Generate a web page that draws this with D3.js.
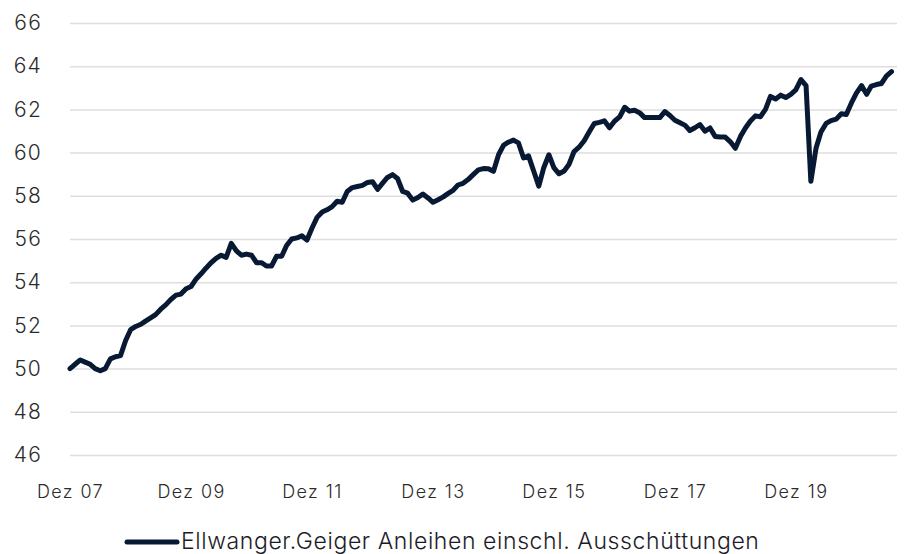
<!DOCTYPE html>
<html>
<head>
<meta charset="utf-8">
<script src="https://cdn.jsdelivr.net/npm/d3@7"></script>
<style>
  body { margin: 0; background: #fff; }
  #chart { width: 904px; height: 554px; }
  .tick-label { font-family: Inter, "Noto Sans", sans-serif; font-weight: 300; fill: #2b2b2b; }
  .legend-text { font-family: Inter, "Noto Sans", sans-serif; font-weight: 300; fill: #1c1c28; }
</style>
</head>
<body>
<div id="chart"></div>
<script>
// monthly values, first point Dez 2007
const startMonth = new Date(2007, 11, 1);
const values = [
  50.0,
  50.2, 50.4, 50.3, 50.2, 50.0, 49.9, 50.0, 50.45, 50.55, 50.6, 51.3, 51.8,
  51.95, 52.05, 52.2, 52.35, 52.5, 52.75, 52.95, 53.2, 53.4, 53.45, 53.7, 53.8,
  54.15, 54.4, 54.65, 54.9, 55.1, 55.25, 55.15, 55.8, 55.45, 55.25, 55.3, 55.25,
  54.9, 54.9, 54.75, 54.75, 55.2, 55.2, 55.7, 56.0, 56.05, 56.15, 55.95, 56.5,
  57.0, 57.25, 57.35, 57.5, 57.75, 57.7, 58.2, 58.38, 58.43, 58.48, 58.62, 58.65,
  58.3, 58.6, 58.85, 58.98, 58.8, 58.2, 58.12, 57.8, 57.92, 58.08, 57.9, 57.7,
  57.82, 57.95, 58.1, 58.25, 58.5, 58.58, 58.75, 58.98, 59.2, 59.26, 59.25, 59.13,
  59.9, 60.35, 60.48, 60.58, 60.45, 59.75, 59.85, 59.15, 58.45, 59.3, 59.9, 59.3,
  59.02, 59.15, 59.45, 60.05, 60.25, 60.55, 60.95, 61.35, 61.4, 61.47, 61.15, 61.45,
  61.65, 62.1, 61.92, 61.96, 61.85, 61.62, 61.62, 61.63, 61.62, 61.9, 61.72, 61.5,
  61.38, 61.26, 61.02, 61.15, 61.3, 60.99, 61.14, 60.75, 60.72, 60.72, 60.5, 60.2,
  60.75, 61.15, 61.45, 61.7, 61.66, 62.0, 62.6, 62.48, 62.66, 62.55, 62.7, 62.9,
  63.38, 63.1, 58.67, 60.2, 60.95, 61.35, 61.48, 61.55, 61.8, 61.76, 62.3, 62.75,
  63.1, 62.7, 63.08, 63.15, 63.2, 63.55, 63.75
];

const yTicks = [46, 48, 50, 52, 54, 56, 58, 60, 62, 64, 66];
const xTickDates = [new Date(2007, 11, 1), new Date(2009, 11, 1), new Date(2011, 11, 1),
  new Date(2013, 11, 1), new Date(2015, 11, 1), new Date(2017, 11, 1), new Date(2019, 11, 1)];
const xTickLabels = ["Dez 07", "Dez 09", "Dez 11", "Dez 13", "Dez 15", "Dez 17", "Dez 19"];
const seriesName = "Ellwanger.Geiger Anleihen einschl. Ausschüttungen";

const data = values.map((v, i) => ({ date: d3.timeMonth.offset(startMonth, i), value: v }));

const W = 904, H = 554;
const margin = { top: 23, right: 7, bottom: 99, left: 70 };
const width = W - margin.left - margin.right,
      height = H - margin.top - margin.bottom;

const svg = d3.select("#chart")
  .append("svg")
    .attr("width", W)
    .attr("height", H)
  .append("g")
    .attr("transform", "translate(" + margin.left + "," + margin.top + ")");

// scales
const xScale = d3.scaleTime()
  .domain([startMonth, d3.timeMonth.offset(startMonth, values.length - 1)])
  .range([0, 821.5]);
const yScale = d3.scaleLinear()
  .domain([46, 66])
  .range([height, 0]);

// y axis with grid
const yAxis = svg.append("g")
  .call(d3.axisLeft(yScale).tickValues(yTicks).tickSize(-width).tickPadding(28));
yAxis.select(".domain").remove();
yAxis.selectAll(".tick line").attr("stroke", "#dedede").attr("stroke-width", 1.5);
yAxis.selectAll(".tick text")
  .attr("class", "tick-label")
  .style("font-size", "21px")
  .style("letter-spacing", "1.2px");

// x axis
const xAxis = svg.append("g")
  .attr("transform", "translate(0," + height + ")")
  .call(d3.axisBottom(xScale).tickValues(xTickDates)
    .tickFormat((d, i) => xTickLabels[i]).tickSize(0).tickPadding(30));
xAxis.select(".domain").remove();
xAxis.selectAll(".tick text")
  .attr("class", "tick-label")
  .style("font-size", "18px")
  .style("letter-spacing", "1.4px");

// line
const line = d3.line()
  .x(d => xScale(d.date))
  .y(d => yScale(d.value));

svg.append("path")
  .datum(data)
  .attr("fill", "none")
  .attr("stroke", "#081a33")
  .attr("stroke-width", 5)
  .attr("stroke-linejoin", "round")
  .attr("stroke-linecap", "round")
  .attr("d", line);

// legend
const legend = d3.select("#chart svg").append("g");
legend.append("line")
  .attr("x1", 127).attr("x2", 177)
  .attr("y1", 542).attr("y2", 542)
  .attr("stroke", "#081a33")
  .attr("stroke-width", 5)
  .attr("stroke-linecap", "round");
legend.append("text")
  .attr("class", "legend-text")
  .attr("x", 181)
  .attr("y", 549)
  .style("font-size", "23px")
  .style("letter-spacing", "0.6px")
  .text(seriesName);
</script>
</body>
</html>
